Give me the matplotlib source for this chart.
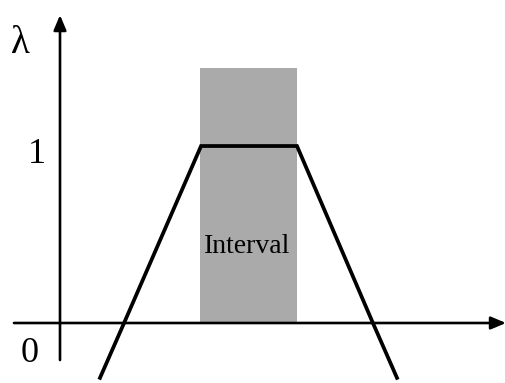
import matplotlib.pyplot as plt
from matplotlib.patches import Rectangle

# trapezoid membership function (x in arbitrary units, lambda = membership)
trap_x = [0.226, 0.362, 0.797, 1.339, 1.768, 1.904]
trap_lam = [-0.31, 0.0, 1.0, 1.0, 0.0, -0.31]

# shaded interval
interval_lo, interval_hi = 0.791, 1.339
interval_top = 1.441

plt.rcParams['font.family'] = ['Liberation Serif', 'DejaVu Serif']

fig = plt.figure(figsize=(5.06, 3.83), dpi=100)
ax = fig.add_axes([0, 0, 1, 1])
ax.set_xlim(-0.339, 2.520)
ax.set_ylim(-0.339, 1.825)
ax.axis('off')

ax.add_patch(Rectangle((interval_lo, 0), interval_hi - interval_lo, interval_top,
                       facecolor='#aaaaaa', edgecolor='none', zorder=1))

# axes with arrows
arrow = dict(arrowstyle='-|>,head_length=0.9,head_width=0.38',
             color='black', lw=1.9, shrinkA=0, shrinkB=0)
ax.annotate('', xy=(2.52, 0), xytext=(-0.26, 0), arrowprops=arrow, zorder=2)
ax.annotate('', xy=(0, 1.74), xytext=(0, -0.209), arrowprops=arrow, zorder=2)

ax.plot(trap_x, trap_lam, color='black', lw=2.7, solid_joinstyle='miter', zorder=3)

ax.text(-0.226, 1.58, 'λ', fontsize=28, ha='center', va='center')
ax.text(-0.13, 0.95, '1', fontsize=26, ha='center', va='center')
ax.text(-0.17, -0.17, '0', fontsize=26, ha='center', va='center')
ax.text(1.056, 0.43, 'Interval', fontsize=20, ha='center', va='center', zorder=4)

fig.savefig('out.png', dpi=100)
